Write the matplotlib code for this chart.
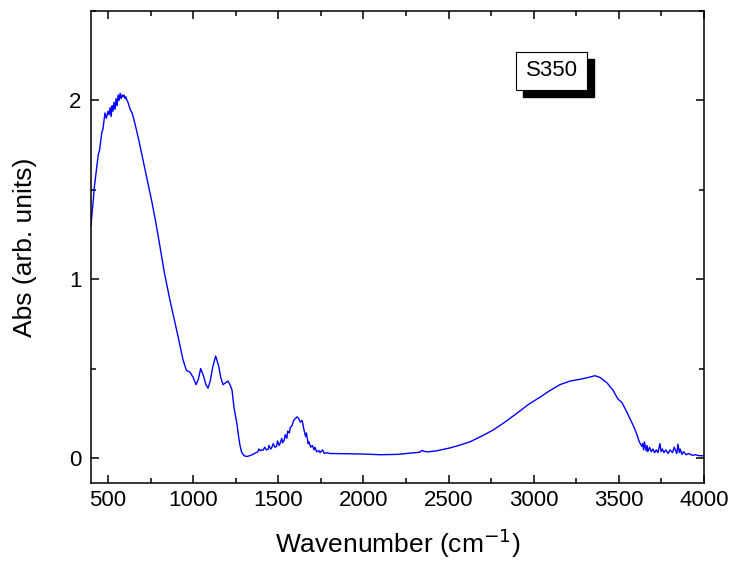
"""
FTIR absorbance spectrum of sample S350 (400-4000 cm-1).
"""

import matplotlib

matplotlib.use("Agg")
import matplotlib.pyplot as plt
from matplotlib.patches import Rectangle
from matplotlib.ticker import MultipleLocator

plt.rcParams["font.family"] = ["Liberation Sans", "DejaVu Sans"]

SAMPLE = "S350"

# Lattice band (400-760 cm-1), noisy near the top
wn_lattice = [400, 405, 413, 420, 430, 443, 450, 463, 470, 482, 490, 500, 506,
              512, 518, 524, 529, 535, 541, 547, 553, 559, 565, 571, 577, 583,
              588, 594, 600, 605, 611, 617, 623, 630, 641, 650, 658, 680, 700,
              720, 740, 758]
abs_lattice = [1.30, 1.36, 1.44, 1.52, 1.60, 1.70, 1.72, 1.82, 1.84, 1.93, 1.90,
               1.94, 1.92, 1.96, 1.91, 1.97, 1.94, 1.99, 1.95, 2.01, 1.97, 2.03,
               2.00, 2.04, 2.01, 2.03, 2.02, 2.03, 2.01, 2.02, 2.00, 1.99, 1.97,
               1.95, 1.93, 1.90, 1.87, 1.78, 1.69, 1.60, 1.51, 1.43]

# Si-O stretching region (760-1370 cm-1)
wn_sio = [780, 800, 830, 864, 911, 940, 960, 981, 1000, 1017, 1030, 1044, 1060,
          1075, 1087, 1100, 1115, 1132, 1148, 1162, 1175, 1190, 1204, 1216, 1228,
          1240, 1257, 1268, 1275, 1285, 1300, 1316, 1340]
abs_sio = [1.32, 1.21, 1.04, 0.88, 0.68, 0.55, 0.49, 0.48, 0.45, 0.41, 0.44, 0.50,
           0.46, 0.41, 0.39, 0.43, 0.51, 0.57, 0.52, 0.45, 0.41, 0.42, 0.43, 0.41,
           0.38, 0.28, 0.19, 0.11, 0.07, 0.03, 0.012, 0.008, 0.015]

# Water bending band around 1630 cm-1 with its noise
wn_water = [1370, 1380, 1385, 1395, 1400, 1410, 1420, 1430, 1440, 1445, 1455,
            1460, 1470, 1480, 1490, 1495, 1505, 1510, 1520, 1525, 1535, 1540,
            1550, 1555, 1565, 1570, 1580, 1590, 1600, 1610, 1620, 1630, 1640,
            1650, 1660, 1665, 1675, 1680, 1690, 1700, 1710, 1715, 1725, 1740,
            1745, 1760, 1770, 1785, 1800]
abs_water = [0.030, 0.035, 0.050, 0.040, 0.045, 0.043, 0.060, 0.045, 0.048,
             0.070, 0.050, 0.055, 0.080, 0.060, 0.065, 0.095, 0.070, 0.080,
             0.110, 0.085, 0.100, 0.130, 0.110, 0.150, 0.140, 0.170, 0.180,
             0.210, 0.220, 0.230, 0.220, 0.200, 0.210, 0.160, 0.120, 0.140,
             0.080, 0.090, 0.060, 0.070, 0.045, 0.060, 0.035, 0.040, 0.030,
             0.045, 0.025, 0.030, 0.025]

# Baseline and broad O-H stretching band
wn_oh = [2000, 2100, 2200, 2291, 2330, 2343, 2360, 2379, 2430, 2508, 2560, 2625,
         2700, 2761, 2830, 2901, 2970, 3037, 3100, 3154, 3213, 3271, 3320, 3359,
         3390, 3430, 3465, 3494, 3518, 3545, 3565, 3590, 3606, 3620, 3635]
abs_oh = [0.022, 0.018, 0.020, 0.028, 0.032, 0.042, 0.036, 0.034, 0.040, 0.056,
          0.070, 0.090, 0.125, 0.156, 0.200, 0.250, 0.300, 0.340, 0.380, 0.410,
          0.430, 0.440, 0.450, 0.460, 0.450, 0.420, 0.380, 0.330, 0.310, 0.260,
          0.220, 0.170, 0.130, 0.090, 0.065]

# Noisy tail up to 4000 cm-1
wn_tail = [3640, 3645, 3650, 3660, 3665, 3670, 3680, 3690, 3700, 3710, 3720,
           3730, 3741, 3748, 3755, 3765, 3775, 3790, 3800, 3815, 3825, 3840,
           3847, 3855, 3860, 3870, 3880, 3895, 3910, 3930, 3950, 3970, 4000]
abs_tail = [0.080, 0.045, 0.090, 0.040, 0.070, 0.035, 0.060, 0.035, 0.050,
            0.030, 0.045, 0.030, 0.080, 0.035, 0.050, 0.030, 0.045, 0.025,
            0.045, 0.030, 0.060, 0.025, 0.077, 0.030, 0.050, 0.020, 0.035,
            0.018, 0.025, 0.015, 0.018, 0.013, 0.012]

wavenumber = wn_lattice + wn_sio + wn_water + wn_oh + wn_tail
absorbance = abs_lattice + abs_sio + abs_water + abs_oh + abs_tail


def plot_spectrum(output_path="out.png"):
    fig = plt.figure(figsize=(7.3, 5.62), dpi=100)
    ax = fig.add_axes([0.1247, 0.1406, 0.8397, 0.8398])

    ax.plot(wavenumber, absorbance, color="#0000ff", lw=1.0)

    ax.set_xlim(400, 4000)
    ax.set_ylim(-0.14, 2.5)
    ax.xaxis.set_major_locator(MultipleLocator(500))
    ax.xaxis.set_minor_locator(MultipleLocator(250))
    ax.yaxis.set_major_locator(MultipleLocator(1))
    ax.yaxis.set_minor_locator(MultipleLocator(0.5))
    ax.tick_params(which="both", direction="in", top=True, right=True,
                   width=1.1, labelsize=16)
    ax.tick_params(which="major", length=5.5)
    ax.tick_params(which="minor", length=3.5)
    ax.tick_params(axis="x", pad=5)
    ax.tick_params(axis="y", pad=7)
    for spine in ax.spines.values():
        spine.set_linewidth(1.1)

    ax.set_xlabel("Wavenumber (cm$^{-1}$)", fontsize=19, va="top")
    ax.set_ylabel("Abs (arb. units)", fontsize=19)
    ax.xaxis.set_label_coords(0.5, -0.092)
    ax.yaxis.set_label_coords(-0.088, 0.5)

    # sample label: white box with drop shadow
    x0, y0, w, h = 0.694, 0.833, 0.115, 0.080
    ax.add_patch(Rectangle((x0 + 0.011, y0 - 0.015), w, h, transform=ax.transAxes,
                           facecolor="black", edgecolor="black", zorder=4))
    ax.add_patch(Rectangle((x0, y0), w, h, transform=ax.transAxes,
                           facecolor="white", edgecolor="black", lw=0.8, zorder=5))
    ax.text(x0 + w / 2, y0 + h / 2, SAMPLE, transform=ax.transAxes,
            ha="center", va="center", fontsize=16, zorder=6)

    fig.savefig(output_path, dpi=100)


if __name__ == "__main__":
    plot_spectrum()
